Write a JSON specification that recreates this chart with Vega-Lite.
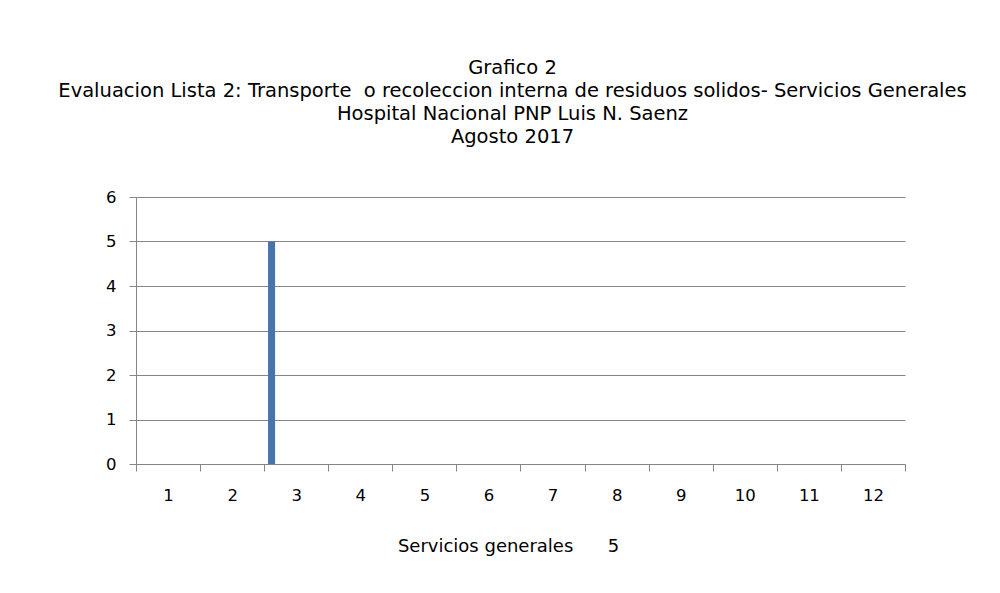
{
  "$schema": "https://vega.github.io/schema/vega-lite/v6.json",
  "width": 769,
  "height": 267,
  "autosize": {"type": "none"},
  "padding": {"left": 136, "top": 197, "right": 95, "bottom": 129},
  "background": "white",
  "title": {
    "text": ["Grafico 2", "Evaluacion Lista 2: Transporte\u00a0\u00a0o recoleccion interna de residuos solidos- Servicios Generales", "Hospital Nacional PNP Luis N. Saenz", "Agosto 2017"],
    "font": "DejaVu Sans",
    "fontSize": 19.5,
    "fontWeight": "normal",
    "color": "black",
    "lineHeight": 23,
    "anchor": "middle",
    "offset": 42,
    "dx": -8
  },
  "data": {
    "values": [
      {"grupo": "1", "serie": "s1", "valor": 0},
      {"grupo": "2", "serie": "s1", "valor": 0},
      {"grupo": "3", "serie": "s1", "valor": 5},
      {"grupo": "4", "serie": "s1", "valor": 0},
      {"grupo": "5", "serie": "s1", "valor": 0},
      {"grupo": "6", "serie": "s1", "valor": 0},
      {"grupo": "7", "serie": "s1", "valor": 0},
      {"grupo": "8", "serie": "s1", "valor": 0},
      {"grupo": "9", "serie": "s1", "valor": 0},
      {"grupo": "10", "serie": "s1", "valor": 0},
      {"grupo": "11", "serie": "s1", "valor": 0},
      {"grupo": "12", "serie": "s1", "valor": 0}
    ]
  },
  "mark": {"type": "bar", "color": "#4674AB"},
  "encoding": {
    "x": {
      "field": "grupo",
      "type": "ordinal",
      "sort": ["1","2","3","4","5","6","7","8","9","10","11","12"],
      "scale": {"paddingInner": 0, "paddingOuter": 0},
      "axis": {
        "title": "Servicios generales\u00a0\u00a0\u00a0\u00a0\u00a0\u00a05",
        "labelAngle": 0,
        "tickBand": "extent",
        "grid": false,
        "domainColor": "#868686",
        "tickColor": "#868686",
        "tickSize": 7,
        "labelPadding": 16,
        "labelFont": "DejaVu Sans",
        "labelFontSize": 16.5,
        "labelColor": "black",
        "titleFont": "DejaVu Sans",
        "titleFontSize": 18,
        "titleFontWeight": "normal",
        "titleColor": "black",
        "titlePadding": 34,
        "titleX": 372,
        "titleAlign": "center"
      }
    },
    "xOffset": {
      "field": "serie",
      "scale": {"domain": ["s1","s2","s3","s4","s5","s6","s7","s8"], "paddingOuter": 0.55, "paddingInner": 0}
    },
    "y": {
      "field": "valor",
      "type": "quantitative",
      "scale": {"domain": [0, 6], "nice": false},
      "axis": {
        "values": [0, 1, 2, 3, 4, 5, 6],
        "title": null,
        "grid": true,
        "gridColor": "#868686",
        "domainColor": "#868686",
        "tickColor": "#868686",
        "tickSize": 7,
        "labelPadding": 13,
        "labelFont": "DejaVu Sans",
        "labelFontSize": 16.5,
        "labelColor": "black"
      }
    }
  },
  "config": {"view": {"stroke": null}}
}
